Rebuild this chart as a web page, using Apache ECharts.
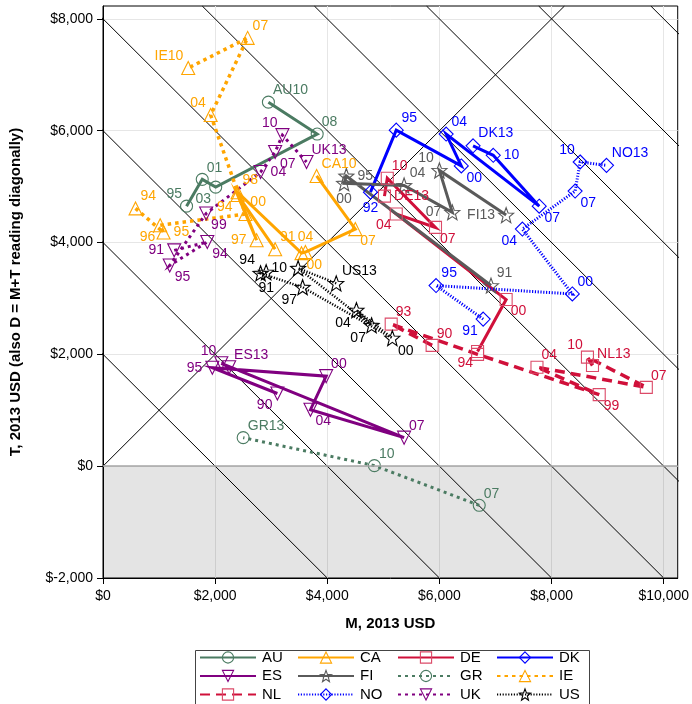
<!DOCTYPE html>
<html><head><meta charset="utf-8">
<script src="https://cdn.jsdelivr.net/npm/echarts@6/dist/echarts.min.js"></script>
<style>html,body{margin:0;padding:0;background:#fff}#c{width:692px;height:704px}</style>
</head><body><div id="c"></div>
<script>
// ---------- data (M and T in 2013 USD) ----------
const AU_years = ['95','01','03','08','10'];
const AU_M = [1490, 1770, 2010, 3820, 2950];
const AU_T = [4650, 5130, 4990, 5940, 6510];

const CA_years = ['91','94','97','98','00','04','07','10'];
const CA_M = [3070, 2400, 2740, 2400, 3540, 3610, 4500, 3810];
const CA_T = [3880, 4850, 4040, 4900, 3810, 3830, 4240, 5190];

const DE_years = ['94','00','04','07','10','13'];
const DE_M = [6680, 7190, 5230, 5930, 5070, 5020];
const DE_T = [2050, 2980, 4510, 4270, 5150, 4830];

const DK_years = ['92','95','00','04','07','10','13'];
const DK_M = [4770, 5230, 6390, 6120, 7780, 6960, 6600];
const DK_T = [4900, 6010, 5370, 5940, 4650, 5560, 5730];

const ES_years = ['90','95','00','04','07','10','13'];
const ES_M = [3110, 1950, 3980, 3700, 5370, 2110, 2250];
const ES_T = [1300, 1760, 1610, 1010, 510, 1840, 1770];

const FI_years = ['91','95','00','04','07','10','13'];
const FI_M = [6920, 4340, 4300, 5370, 6230, 6000, 7190];
const FI_T = [3230, 5190, 5060, 5020, 4540, 5290, 4490];

const GR_years = ['07','10','13'];
const GR_M = [6710, 4840, 2500];
const GR_T = [-700, 10, 510];

const IE_years = ['94','95','96','00','04','07','10'];
const IE_M = [580, 1080, 1020, 2540, 1920, 2580, 1520];
const IE_T = [4610, 4180, 4310, 4510, 6280, 7660, 7120];

const NL_years = ['90','93','94','99','04','07','10','13'];
const NL_M = [5870, 5140, 6680, 8850, 7740, 9690, 8640, 8730];
const NL_T = [2160, 2540, 2000, 1280, 1770, 1410, 1950, 1800];

const NO_years = ['91','95','00','04','07','10','13'];
const NO_M = [6780, 5940, 8370, 7480, 8420, 8510, 8980];
const NO_T = [2630, 3230, 3080, 4240, 4920, 5440, 5380];

const UK_years = ['91','94','95','99','04','07','10','13'];
const UK_M = [1270, 1860, 1190, 1840, 2810, 3070, 3200, 3630];
const UK_T = [3860, 4010, 3590, 4520, 5260, 5620, 5920, 5440];

const US_years = ['91','94','97','00','04','07','10','13'];
const US_M = [2910, 2810, 3560, 5160, 4520, 4790, 3480, 4160];
const US_T = [3470, 3450, 3200, 2290, 2790, 2520, 3540, 3270];

const countries = ['AU','CA','DE','DK','ES','FI','GR','IE','NL','NO','UK','US'];
const xTicks = [0, 2000, 4000, 6000, 8000, 10000];
const yTicks = [-2000, 0, 2000, 4000, 6000, 8000];
const diagonalTotals = [2000, 4000, 6000, 8000, 10000, 12000, 14000, 16000, 18000];

// ---------- styling / label placement ----------
const labelDir = {
  AU: ['nw','ne','sw','ne','ne'],
  CA: ['ne','sw','w','ne','se','n','se','ne'],
  DE: ['sw','se','sw','se','ne','e'],
  DK: ['s','ne','se','ne','se','e','ne'],
  ES: ['sw','w','ne','se','ne','nw','ne'],
  FI: ['ne','e','s','ne','w','nw','w'],
  GR: ['ne','ne','ne'],
  IE: ['ne','e','sw','ne','nw','ne','nw'],
  NL: ['ne','ne','none','se','ne','ne','nw','ne'],
  NO: ['sw','ne','ne','sw','se','nw','ne'],
  UK: ['w','se','se','se','e','se','nw','ne'],
  US: ['s','nw','sw','se','sw','sw','w','ne']
};
const STAR = 'path://M12,1.5 L14.7,8.7 L22.5,9.1 L16.4,14 L18.5,21.6 L12,17.3 L5.5,21.6 L7.6,14 L1.5,9.1 L9.3,8.7 Z';
const style = {
  AU: {c:'#4b7b62', type:'solid', w:3, sym:'circle', size:12},
  CA: {c:'#ffa500', type:'solid', w:3, sym:'triangle', size:13},
  DE: {c:'#d0103a', mc:'#dc4a68', type:'solid', w:3, sym:'rect', size:12},
  DK: {c:'#0000ff', type:'solid', w:3, sym:'diamond', size:14},
  ES: {c:'#800080', type:'solid', w:3, sym:'triangle', size:13, rot:180},
  FI: {c:'#5a5a5a', type:'solid', w:3, sym:STAR, size:15},
  GR: {c:'#4b7b62', type:[3,4], w:3, sym:'circle', size:12},
  IE: {c:'#ffa500', type:[3.5,4], w:3.5, sym:'triangle', size:13},
  NL: {c:'#d0103a', mc:'#dc4a68', type:[10,6], w:3.5, sym:'rect', size:12},
  NO: {c:'#0000ff', type:[1.2,1.6], w:3, sym:'diamond', size:14},
  UK: {c:'#800080', type:[3,4], w:3, sym:'triangle', size:13, rot:180},
  US: {c:'#000000', type:[1.2,1.6], w:2.5, sym:STAR, size:15}
};
const dataSets = {
  AU:[AU_years,AU_M,AU_T], CA:[CA_years,CA_M,CA_T], DE:[DE_years,DE_M,DE_T], DK:[DK_years,DK_M,DK_T],
  ES:[ES_years,ES_M,ES_T], FI:[FI_years,FI_M,FI_T], GR:[GR_years,GR_M,GR_T], IE:[IE_years,IE_M,IE_T],
  NL:[NL_years,NL_M,NL_T], NO:[NO_years,NO_M,NO_T], UK:[UK_years,UK_M,UK_T], US:[US_years,US_M,US_T]
};
const FONT = 'Liberation Sans, Arial, sans-serif';
const X_MAX = 10250, Y_MIN = -2000, Y_MAX = 8230;

function labelCfg(dir) {
  switch (dir) {
    case 'e': return {position:'right', distance:3};
    case 'w': return {position:'left', distance:3};
    case 'n': return {position:'top', distance:1};
    case 's': return {position:'bottom', distance:1};
    case 'ne': return {position:['85%','15%'], align:'left', verticalAlign:'bottom'};
    case 'nw': return {position:['15%','15%'], align:'right', verticalAlign:'bottom'};
    case 'se': return {position:['85%','85%'], align:'left', verticalAlign:'top'};
    case 'sw': return {position:['15%','85%'], align:'right', verticalAlign:'top'};
    default: return {show:false};
  }
}

function fmt(v) {
  const s = Math.abs(v).toString().replace(/\B(?=(\d{3})+(?!\d))/g, ',');
  return '$' + (v < 0 ? '-' : '') + s;
}

const series = [];
// shaded negative region + zero line + reference diagonals
diagonalTotals.forEach(function (k, i) {
  series.push({
    type:'line', silent:true, symbol:'none', z:1, animation:false,
    data:[[k - Y_MAX, Y_MAX], [k - Y_MIN, Y_MIN]],
    lineStyle:{color:'#000', width:1},
    markArea: i === 0 ? {silent:true, itemStyle:{color:'rgba(0,0,0,0.105)'}, data:[[{yAxis:Y_MIN},{yAxis:0}]]} : undefined,
    markLine: i === 0 ? {silent:true, symbol:'none', label:{show:false}, lineStyle:{color:'#a6a6a6', width:1.5, type:'solid'}, data:[{yAxis:0}]} : undefined
  });
});
series.push({type:'line', silent:true, symbol:'none', z:1, data:[[0,0],[Y_MAX,Y_MAX]], lineStyle:{color:'#000', width:1}});

countries.forEach(function (cc) {
  const st = style[cc];
  const [yrs, M, T] = dataSets[cc];
  const data = yrs.map(function (y, i) {
    const name = (i === yrs.length - 1) ? cc + y : y;
    return {name:name, value:[M[i], T[i]], label:labelCfg(labelDir[cc][i])};
  });
  series.push({
    name:cc, type:'line', z:3, data:data,
    symbol:st.sym, symbolSize:st.size, symbolRotate:st.rot || 0, showAllSymbol:true,
    lineStyle:{color:st.c, width:st.w, type:st.type, cap:'butt', join:'miter'},
    itemStyle:{color:'rgba(255,255,255,0)', borderColor:st.mc || st.c, borderWidth:1.1},
    label:{show:true, formatter:'{b}', color:st.c, fontSize:14, fontFamily:FONT},
    emphasis:{disabled:true}
  });
});

const legendCols = [['AU','ES','NL'], ['CA','FI','NO'], ['DE','GR','UK'], ['DK','IE','US']];
const legendLeft = [199, 297, 397, 496];
const legends = legendCols.map(function (col, i) {
  return {
    data:col, orient:'vertical', left:legendLeft[i], top:650, padding:0,
    itemWidth:56, itemHeight:14, itemGap:3.5, selectedMode:false,
    itemStyle:{color:'rgba(255,255,255,0)', borderWidth:1.1},
    textStyle:{fontSize:15, color:'#000', fontFamily:FONT, padding:[0,0,0,1]}
  };
});

const chart = echarts.init(document.getElementById('c'), null, {renderer:'canvas'});
chart.setOption({
  animation:false,
  backgroundColor:'#fff',
  textStyle:{fontFamily:FONT},
  grid:{left:103, right:14, top:6, bottom:126, show:true, borderColor:'#000', borderWidth:1, backgroundColor:'rgba(0,0,0,0)'},
  legend:legends,
  graphic:[{type:'rect', left:193, top:648, shape:{width:394, height:55}, style:{fill:'none', stroke:'#444', lineWidth:1}, silent:true}],
  xAxis:{
    type:'value', min:0, max:X_MAX, interval:2000,
    name:'M, 2013 USD', nameLocation:'middle', nameGap:38,
    nameTextStyle:{fontSize:15, fontWeight:'bold', color:'#000', fontFamily:FONT},
    axisLine:{show:true, onZero:false, lineStyle:{color:'#000'}},
    axisTick:{show:true, length:6, lineStyle:{color:'#000'}, customValues:xTicks},
    axisLabel:{fontSize:14, color:'#000', margin:11, formatter:fmt, customValues:xTicks},
    splitLine:{show:true, lineStyle:{color:'#e6e6e6', width:1}}
  },
  yAxis:{
    type:'value', min:Y_MIN, max:Y_MAX, interval:2000,
    name:'T, 2013 USD (also D = M+T reading diagonally)', nameLocation:'middle', nameGap:80,
    nameTextStyle:{fontSize:15, fontWeight:'bold', color:'#000', fontFamily:FONT},
    axisLine:{show:true, onZero:false, lineStyle:{color:'#000'}},
    axisTick:{show:true, length:6, lineStyle:{color:'#000'}, customValues:yTicks},
    axisLabel:{fontSize:14, color:'#000', margin:10, formatter:fmt, customValues:yTicks},
    splitLine:{show:true, lineStyle:{color:'#e6e6e6', width:1}}
  },
  series:series
});
</script></body></html>
